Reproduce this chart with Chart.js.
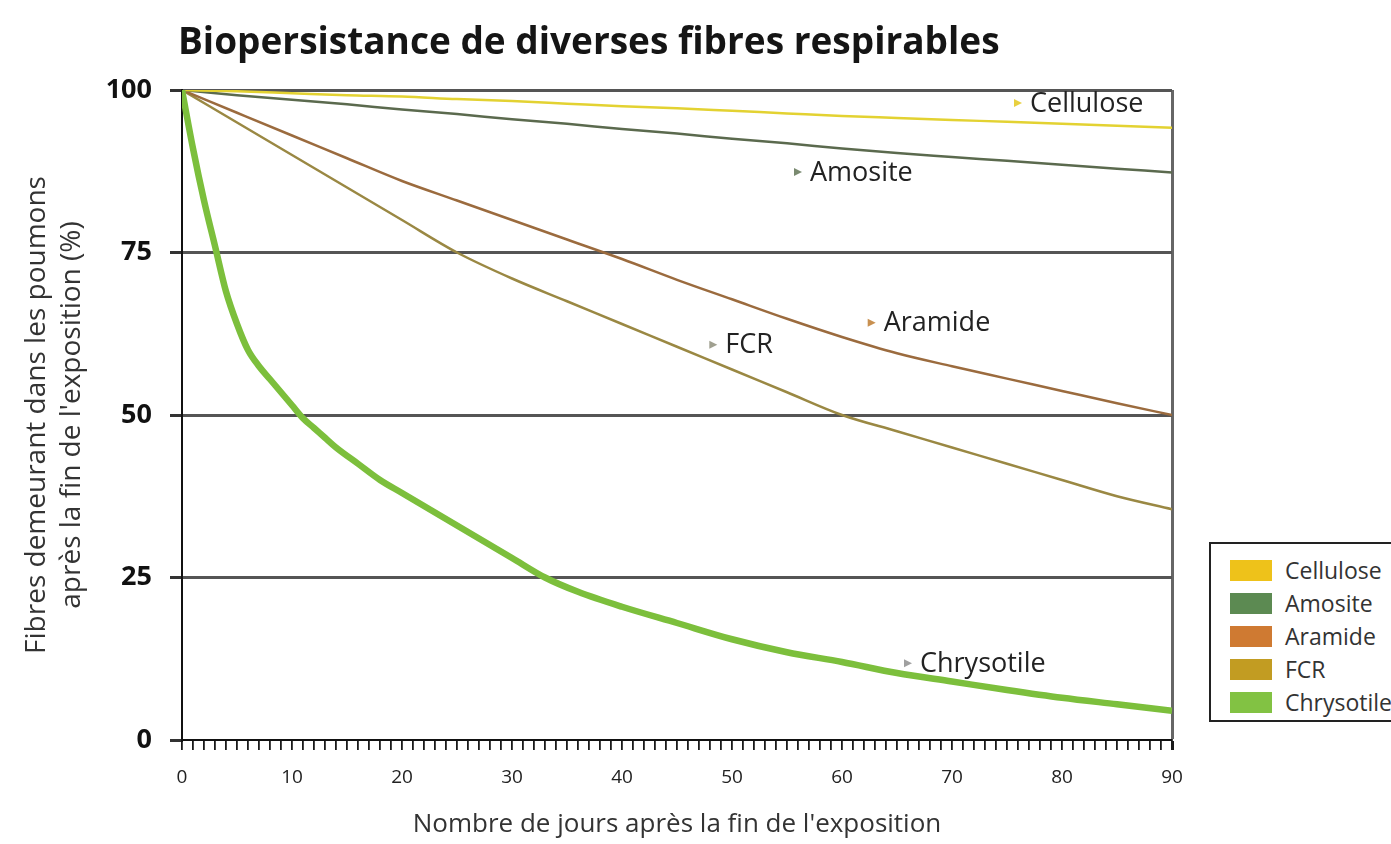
<!DOCTYPE html>
<html>
<head>
<meta charset="utf-8">
<script src="https://cdn.jsdelivr.net/npm/chart.js@4/dist/chart.umd.min.js"></script>
<style>
  html, body { margin: 0; padding: 0; background: #ffffff; overflow: hidden; }
  #wrap { position: relative; width: 1391px; height: 844px; overflow: hidden; }
  #title { position: absolute; left: 178px; top: 14px; font-family: "Open Sans", sans-serif; font-weight: 700; font-size: 37px; color: #151515; letter-spacing: 0px; white-space: nowrap; }
  #legend { position: absolute; left: 1209px; top: 542px; width: 200px; height: 180px; border: 2px solid #222; background: #fff; box-sizing: border-box; font-family: "Open Sans", sans-serif; font-size: 23px; color: #333; }
  .item { position: absolute; left: 19px; height: 22px; display: flex; align-items: center; white-space: nowrap; }
  .sw { width: 42px; height: 21px; margin-right: 13px; }
</style>
</head>
<body>
<div id="wrap">
  <canvas id="c" width="1391" height="844"></canvas>
  <div id="title">Biopersistance de diverses fibres respirables</div>
  <div id="legend"></div>
</div>
<script>
// ---- Data ----
const seriesNames = ['Cellulose', 'Amosite', 'Aramide', 'FCR', 'Chrysotile'];
const days = [0, 5, 10, 15, 20, 25, 30, 35, 40, 45, 50, 55, 60, 65, 70, 75, 80, 85, 90];
const cellulose = [100, 99.8, 99.5, 99.2, 99, 98.6, 98.3, 97.9, 97.5, 97.2, 96.8, 96.4, 96, 95.7, 95.4, 95.1, 94.8, 94.5, 94.2];
const amosite   = [100, 99.2, 98.5, 97.8, 97, 96.3, 95.5, 94.8, 94, 93.3, 92.5, 91.8, 91, 90.3, 89.7, 89.1, 88.5, 87.9, 87.3];
const aramide   = [100, 96.5, 93, 89.5, 86, 83, 80, 77, 74, 70.8, 67.8, 64.8, 62, 59.5, 57.5, 55.6, 53.7, 51.8, 50];
const fcr       = [100, 95, 90, 85, 80, 75, 71, 67.5, 64, 60.5, 57, 53.5, 50, 47.5, 45, 42.5, 40, 37.5, 35.5];
const chrysoDays = [0, 1, 2, 3, 4, 5, 6, 7, 8, 9, 10, 11, 12, 13, 14, 16, 18, 20, 22, 25, 28, 30, 33, 36, 40, 45, 50, 55, 60, 65, 70, 75, 80, 85, 90];
const chrysotile = [100, 91, 83, 76, 69, 64, 60, 57.5, 55.5, 53.5, 51.5, 49.5, 48, 46.5, 45, 42.5, 40, 38, 36, 33, 30, 28, 25, 22.8, 20.5, 18, 15.5, 13.5, 12, 10.3, 9, 7.7, 6.5, 5.5, 4.5];
const yTicks = [0, 25, 50, 75, 100];
const xTickLabels = [0, 10, 20, 30, 40, 50, 60, 70, 80, 90];
// label anchors (day, value)
const labelDays   = [76, 56, 62.7, 48.3, 66];
const labelValues = [98, 87.4, 64.2, 60.8, 11.8];

// ---- Styles ----
const lineColors = ['#e3d232', '#5b6a4e', '#9b6b3e', '#9a8843', '#7cbf3c'];
const lineWidths = [2.5, 2.5, 2.5, 2.5, 6.5];
const legendColors = ['#eec21a', '#5c8a52', '#cf7a32', '#c29c22', '#82c243'];
const markerColors = ['#e8d040', '#7a8a70', '#c89050', '#a0a090', '#a0a0a0'];

const toPts = (xs, ys) => xs.map((d, i) => ({ x: d, y: ys[i] }));
const allData = [toPts(days, cellulose), toPts(days, amosite), toPts(days, aramide), toPts(days, fcr), toPts(chrysoDays, chrysotile)];

const datasets = seriesNames.map((n, i) => ({
  label: n,
  data: allData[i],
  borderColor: lineColors[i],
  borderWidth: lineWidths[i],
  pointRadius: 0,
  fill: false,
  cubicInterpolationMode: 'monotone',
  order: i === 4 ? 0 : 1
}));

// legend
const lg = document.getElementById('legend');
seriesNames.forEach((n, i) => {
  const d = document.createElement('div');
  d.className = 'item';
  d.style.top = (15 + i * 33) + 'px';
  d.innerHTML = '<div class="sw" style="background:' + legendColors[i] + '"></div><span>' + n + '</span>';
  lg.appendChild(d);
});

const labelPlugin = {
  id: 'curveLabels',
  afterDatasetsDraw(chart) {
    const ctx = chart.ctx, xs = chart.scales.x, ys = chart.scales.y;
    ctx.save();
    ctx.font = '27px "Open Sans", sans-serif';
    ctx.textBaseline = 'middle';
    ctx.textAlign = 'left';
    seriesNames.forEach((n, i) => {
      const px = xs.getPixelForValue(labelDays[i]);
      const py = ys.getPixelForValue(labelValues[i]);
      ctx.fillStyle = markerColors[i];
      ctx.beginPath();
      ctx.moveTo(px - 4, py - 4);
      ctx.lineTo(px + 4, py);
      ctx.lineTo(px - 4, py + 4);
      ctx.closePath();
      ctx.fill();
      ctx.fillStyle = '#222';
      ctx.fillText(n, px + 12, py + 1);
    });
    ctx.restore();
  }
};

new Chart(document.getElementById('c'), {
  type: 'line',
  data: { datasets },
  options: {
    responsive: false,
    animation: false,
    layout: { padding: { top: 90, right: 219, left: 0, bottom: 0 } },
    plugins: { legend: { display: false }, tooltip: { enabled: false } },
    scales: {
      x: {
        type: 'linear',
        min: 0, max: 90,
        afterFit: (s) => { s.height = 104; },
        ticks: {
          stepSize: 1, autoSkip: false, maxRotation: 0, padding: 16,
          callback: (v) => (xTickLabels.includes(v) ? String(v) : ''),
          font: { family: '"Open Sans", sans-serif', size: 19 }, color: '#222'
        },
        grid: {
          drawOnChartArea: true,
          tickLength: 10,
          color: (c) => (c.tick && c.tick.value === 90 ? '#666' : 'rgba(0,0,0,0)'),
          tickColor: '#1a1a1a',
          lineWidth: (c) => (c.tick && c.tick.value === 90 ? 3 : 1.8)
        },
        border: { color: '#111', width: 2 },
        title: {
          display: true, text: "Nombre de jours après la fin de l'exposition",
          font: { family: '"Open Sans", sans-serif', size: 26 }, color: '#333', padding: { top: 2 }
        }
      },
      y: {
        min: 0, max: 100,
        afterFit: (s) => { s.width = 182; },
        afterBuildTicks: (s) => { s.ticks = yTicks.map(v => ({ value: v })); },
        ticks: {
          padding: 18,
          font: { family: '"Open Sans", sans-serif', size: 27, weight: 'bold' }, color: '#111'
        },
        grid: {
          tickLength: 12,
          color: (c) => (c.tick && c.tick.value === 0 ? 'rgba(0,0,0,0)' : '#555'),
          tickColor: '#333',
          lineWidth: 3
        },
        border: { color: '#111', width: 2 },
        title: {
          display: true,
          text: ['Fibres demeurant dans les poumons', "après la fin de l'exposition (%)"],
          font: { family: '"Open Sans", sans-serif', size: 28, lineHeight: 1.25 }, color: '#333', padding: { top: 20, bottom: 2 }
        }
      }
    }
  },
  plugins: [labelPlugin]
});
</script>
</body>
</html>
